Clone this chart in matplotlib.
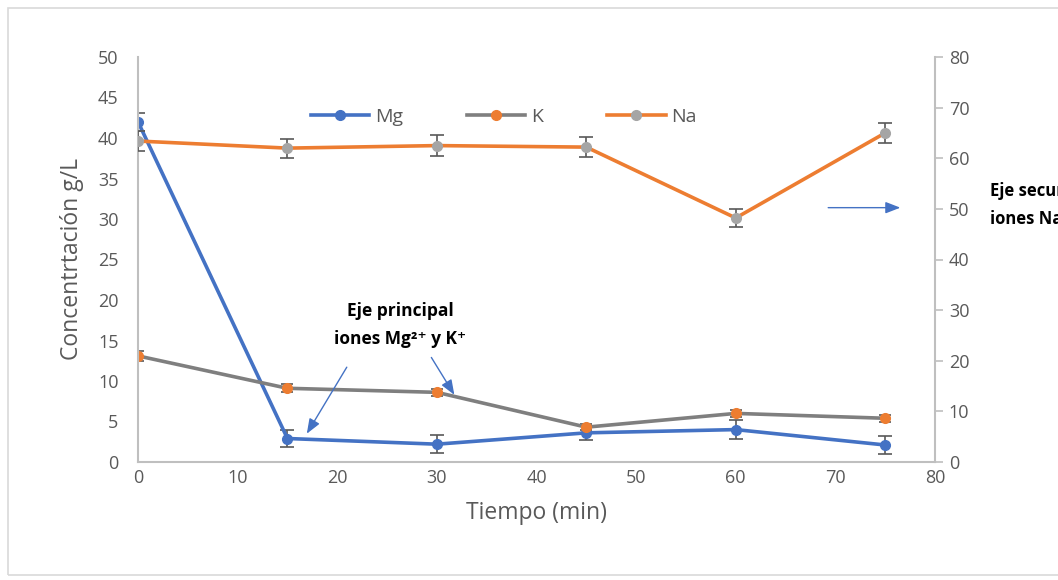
import matplotlib.pyplot as plt
from matplotlib.patches import Rectangle
from matplotlib.lines import Line2D

plt.rcParams['font.family'] = ['Open Sans', 'DejaVu Sans']

tiempo = [0, 15, 30, 45, 60, 75]
mg = [42.0, 2.9, 2.2, 3.6, 4.0, 2.1]
mg_err = [1.1, 1.0, 1.1, 0.9, 1.2, 1.1]
k = [13.1, 9.1, 8.6, 4.3, 6.0, 5.4]
k_err = [0.6, 0.5, 0.4, 0.4, 0.4, 0.4]
na = [63.4, 62.0, 62.5, 62.2, 48.2, 65.0]
na_err = [2.0, 1.9, 2.0, 1.9, 1.7, 2.0]

azul = '#4472C4'
naranja = '#ED7D31'
gris = '#7F7F7F'
gris_cl = '#A5A5A5'
txt = '#595959'

fig = plt.figure(figsize=(10.58, 5.80), dpi=100)
fig.patches.append(Rectangle((8/1058, 5/580), 1.2, 567/580, transform=fig.transFigure,
                             fill=False, edgecolor='#D9D9D9', lw=1.2))
ax1 = fig.add_axes([138/1058, 1-462/580, 797/1058, 405/580])
ax2 = ax1.twinx()

ax1.errorbar(tiempo, mg, yerr=mg_err, color=azul, lw=2.6, marker='o', ms=7,
             mfc=azul, mec=azul, ecolor='#595959', elinewidth=1.2, capsize=5, capthick=1.2)
ax1.errorbar(tiempo, k, yerr=k_err, color=gris, lw=2.6, marker='o', ms=7,
             mfc=naranja, mec=naranja, ecolor='#595959', elinewidth=1.2, capsize=4, capthick=1.2)
ax2.errorbar(tiempo, na, yerr=na_err, color=naranja, lw=2.6, marker='o', ms=7,
             mfc=gris_cl, mec=gris_cl, ecolor='#595959', elinewidth=1.2, capsize=5, capthick=1.2)

ax1.set_xlim(0, 80)
ax1.set_ylim(0, 50)
ax2.set_ylim(0, 80)
ax1.set_xticks(range(0, 81, 10))
ax1.set_yticks(range(0, 51, 5))
ax2.set_yticks(range(0, 81, 10))

for ax in (ax1, ax2):
    for s in ax.spines.values():
        s.set_visible(False)
ax1.spines['left'].set_visible(True)
ax1.spines['bottom'].set_visible(True)
ax2.spines['right'].set_visible(True)
for s in (ax1.spines['left'], ax1.spines['bottom'], ax2.spines['right']):
    s.set_color('#BFBFBF')
    s.set_linewidth(1.5)

ax1.tick_params(axis='y', length=0, labelsize=13, labelcolor=txt, pad=14)
ax1.tick_params(axis='x', length=0, labelsize=13, labelcolor=txt, pad=5)
ax2.tick_params(axis='y', length=6, width=1.2, color='#BFBFBF', labelsize=13,
                labelcolor=txt, pad=4)

ax1.set_xlabel('Tiempo (min)', fontsize=16.5, color=txt, labelpad=10)
ax1.set_ylabel('Concentrtación g/L', fontsize=16.5, color=txt, labelpad=10)

h = [Line2D([], [], color=azul, lw=2.6, marker='o', ms=7, mfc=azul, mec=azul),
     Line2D([], [], color=gris, lw=2.6, marker='o', ms=7, mfc=naranja, mec=naranja),
     Line2D([], [], color=naranja, lw=2.6, marker='o', ms=7, mfc=gris_cl, mec=gris_cl)]
ax2.legend(h, ['Mg', 'K', 'Na'], loc='center', bbox_to_anchor=(0.459, 0.852),
           ncol=3, frameon=False, fontsize=14, handlelength=3.0, columnspacing=3.3,
           labelcolor=txt, handletextpad=0.3)

ax1.text(26.3, 16.9, 'Eje principal\niones Mg²⁺ y K⁺', ha='center', va='center',
         fontsize=12.5, fontweight='bold', linespacing=1.75)
arr = dict(arrowstyle='-|>,head_length=0.9,head_width=0.35', color=azul, lw=1)
ax1.annotate('', xy=(16.8, 3.2), xytext=(21.1, 12.0), arrowprops=arr)
ax1.annotate('', xy=(31.9, 8.0), xytext=(29.3, 13.2), arrowprops=arr)
ax1.annotate('', xy=(76.8, 31.4), xytext=(69.0, 31.4), arrowprops=arr, annotation_clip=False)
fig.text(990/1058, 1-205/580, 'Eje secundario\niones Na⁺', ha='left', va='center',
         fontsize=12, fontweight='bold', linespacing=1.75)

fig.savefig('out.png', dpi=100)
